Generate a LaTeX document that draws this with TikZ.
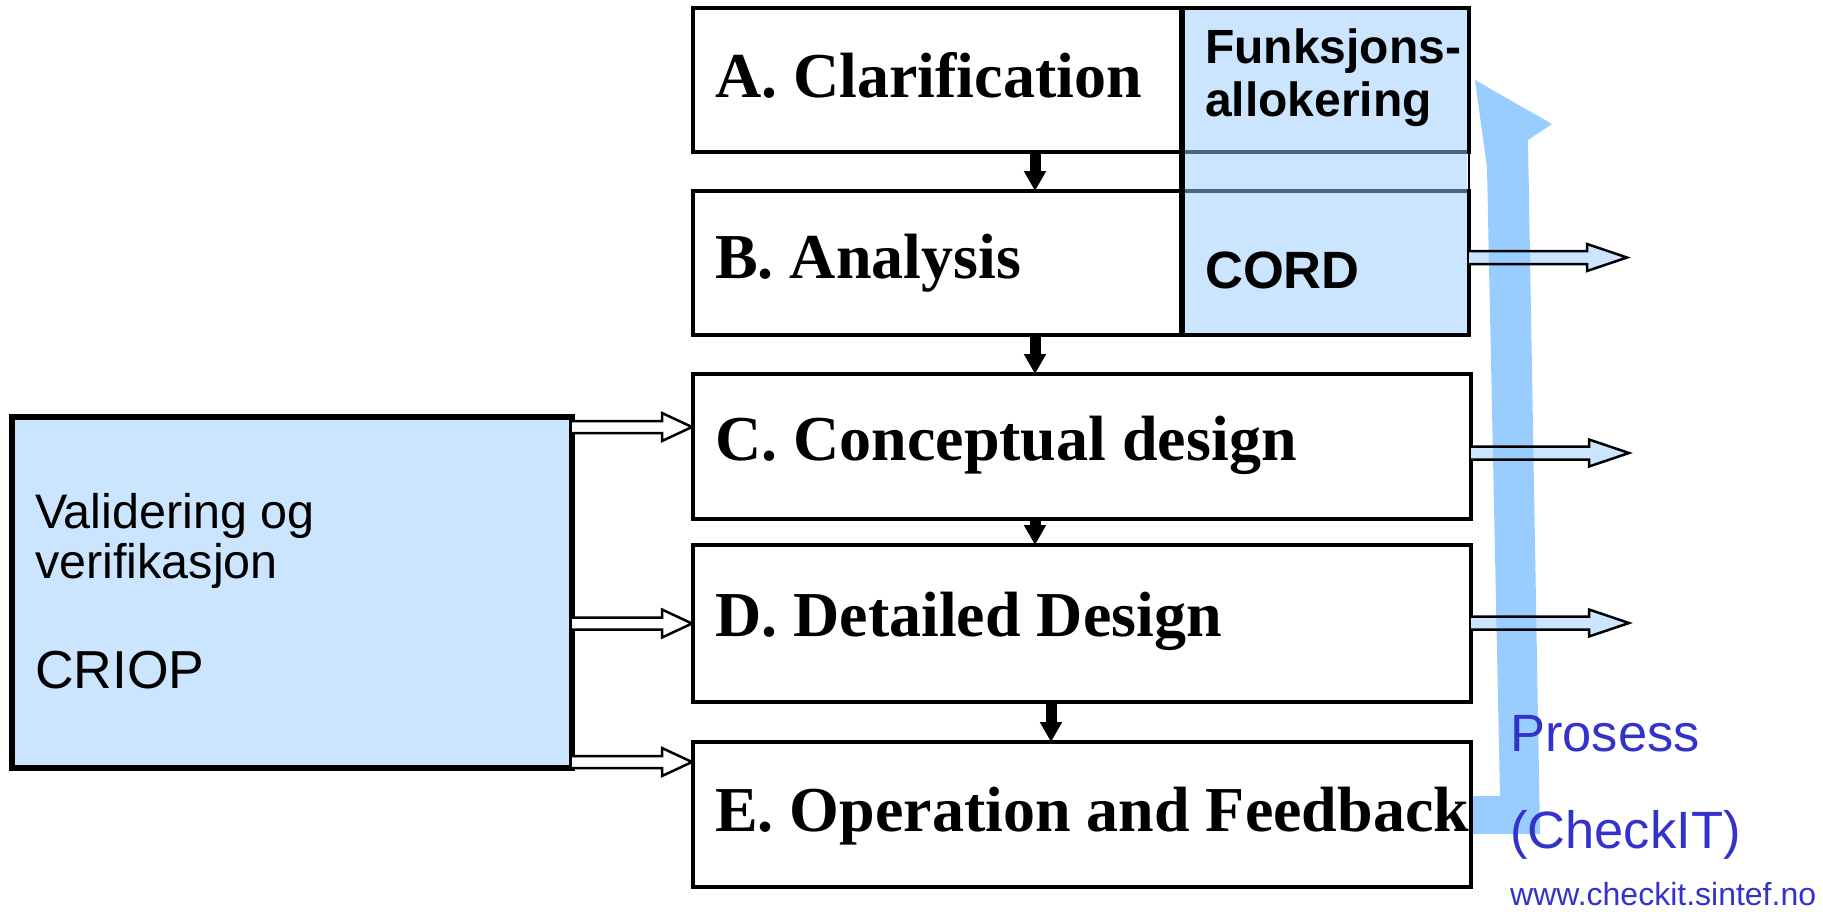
\documentclass[tikz,border=0pt]{standalone}
\usepackage{fontspec}
\setmainfont{Liberation Serif}
\newfontfamily\sansf{Liberation Sans}
\usetikzlibrary{arrows.meta,calc}
\definecolor{lblue}{HTML}{CCE5FF}
\definecolor{mblue}{HTML}{99CCFF}
\definecolor{slate}{HTML}{4D6680}
\definecolor{tblue}{HTML}{3333CC}
\newcommand\larrow[1]{\filldraw[harrowline, fill=white] (#1) ++(0,-6) -- ++(90,0) -- ++(0,-8) -- ++(30,14) -- ++(-30,14) -- ++(0,-8) -- ++(-90,0);}
\newcommand\rarrowfill[1]{\fill[lblue] (#1) ++(0,-6.5) -- ++(118,0) -- ++(0,-7) -- ++(40,13.5) -- ++(-40,13.5) -- ++(0,-7) -- ++(-118,0) -- cycle;}
\newcommand\rarrowline[1]{\draw[harrowline] (#1) ++(0,-6.5) -- ++(118,0) -- ++(0,-7) -- ++(40,13.5) -- ++(-40,13.5) -- ++(0,-7) -- ++(-118,0);}
\begin{document}
\begin{tikzpicture}[x=1pt,y=-1pt,
  stage/.style={draw=black, line width=4.8pt, fill=white, anchor=north west, inner sep=0pt, outer sep=0pt},
  vbox/.style={draw=black, line width=5.5pt, fill=lblue, anchor=north west, inner sep=0pt, outer sep=0pt},
  ttext/.style={anchor=base west, inner sep=0pt, font=\bfseries\fontsize{64}{70}\selectfont},
  ftext/.style={anchor=base west, inner sep=0pt, font=\sansf\bfseries\fontsize{48}{52}\selectfont},
  ctext/.style={anchor=base west, inner sep=0pt, font=\sansf\bfseries\fontsize{52.5}{58}\selectfont},
  vtext/.style={anchor=base west, inner sep=0pt, font=\sansf\fontsize{48.5}{52}\selectfont},
  vbig/.style={anchor=base west, inner sep=0pt, font=\sansf\fontsize{53.5}{58}\selectfont},
  ptext/.style={anchor=base west, inner sep=0pt, text=tblue, font=\sansf\fontsize{52.5}{58}\selectfont},
  wtext/.style={anchor=base west, inner sep=0pt, text=tblue, font=\sansf\fontsize{32}{36}\selectfont},
  down/.style={line width=11pt, -{Triangle[width=21pt,length=20pt]}},
  harrowline/.style={draw=black, line width=2.5pt, line join=miter}
]
\useasboundingbox (0,0) rectangle (1823,911);

% stage boxes
\node[stage, minimum width=776pt, minimum height=144pt] (A) at (693,8) {};
\node[stage, minimum width=776pt, minimum height=144pt] (B) at (693,191) {};
\node[stage, minimum width=778pt, minimum height=145pt] (C) at (693,374) {};
\node[stage, minimum width=778pt, minimum height=157pt] (D) at (693,545) {};
\node[stage, minimum width=778pt, minimum height=145pt] (E) at (693,742) {};
\node[vbox, minimum width=560pt, minimum height=351pt] (V) at (12,417) {};

% blue function allocation block
\node[fill=lblue, anchor=north west, inner sep=0pt, outer sep=0pt, minimum width=282.6pt, minimum height=322.2pt] (F) at (1184,10.4) {};
\draw[slate, line width=4.5pt] (F.west |- A.south) -- (F.east |- A.south);
\draw[slate, line width=4.5pt] (F.west |- B.north) -- (F.east |- B.north);
\coordinate (FL) at (1182,0);
\draw[line width=5.5pt] (FL |- A.north) -- (FL |- B.south);
\draw[line width=2pt] (A.south east) -- (B.north east);

% texts
\node[ttext] (tA) at (715,97) {A. Clarification};
\node[ttext] (tB) at (715,278) {B. Analysis};
\node[ttext] (tC) at (715,460) {C. Conceptual design};
\node[ttext] (tD) at (715,636) {D. Detailed Design};
\node[ttext] (tE) at (715,831) {E. Operation and Feedback};
\node[ftext] (f1) at (1205,63) {Funksjons-};
\node[ftext] (f2) at (1205,116) {allokering};
\node[ctext] (cord) at (1205,288) {CORD};
\node[vtext] (v1) at (35,528) {Validering og};
\node[vtext] (v2) at (35,578) {verifikasjon};
\node[vbig] (v3) at (35,688) {CRIOP};

% down arrows
\coordinate (dx) at (1035,0);
\coordinate (dy) at (1051,0);
\draw[down] (dx |- A.south) -- (dx |- B.north);
\draw[down] (dx |- B.south) -- (dx |- C.north);
\draw[down] (dx |- C.south) -- (dx |- D.north);
\draw[down] (dy |- D.south) -- (dy |- E.north);

% hollow arrows from the left box
\coordinate (lC) at ($(V.east |- C.north)+(0,53)$);
\coordinate (lD) at ($(V.east |- D.west)$);
\coordinate (lE) at ($(V.east |- E.north)+(0,20)$);
\larrow{lC}
\larrow{lD}
\larrow{lE}

% hollow arrows to the right
\coordinate (rB) at ($(B.east)+(0,-5.5)$);
\coordinate (rC) at ($(C.east)+(0,6.5)$);
\coordinate (rD) at ($(D.east)+(0,-0.5)$);
\rarrowfill{rB}
\rarrowfill{rC}
\rarrowfill{rD}

% big process arrow
\fill[mblue] (1473,834) -- (1540,834) -- (1528,140) -- (1552,124) -- (1475,80) -- (1487,168) -- (1500,796) -- (1473,796) -- cycle;

\rarrowline{rB}
\rarrowline{rC}
\rarrowline{rD}

\node[ptext] (p1) at (1510,751) {Prosess};
\node[ptext] (p2) at (1510,848) {(CheckIT)};
\node[wtext] (www) at (1510,905) {www.checkit.sintef.no};
\end{tikzpicture}
\end{document}
